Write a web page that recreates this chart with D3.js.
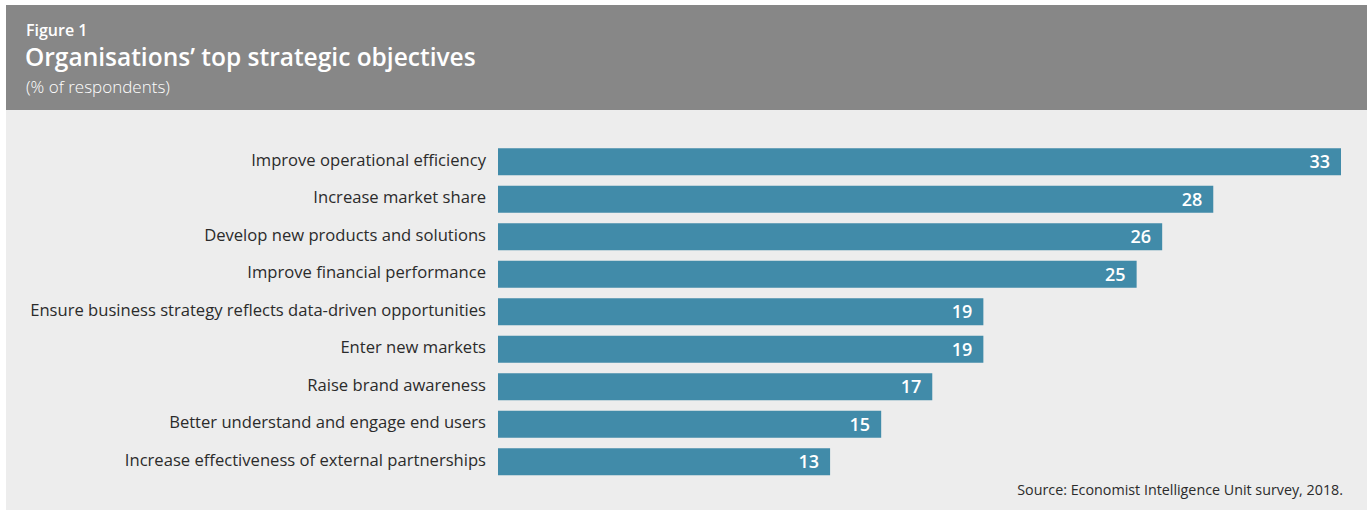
<!DOCTYPE html>
<html>
<head>
<meta charset="utf-8">
<script src="https://cdn.jsdelivr.net/npm/d3@7"></script>
<style>
  body { margin: 0; background: #ffffff; }
  svg { display: block; font-family: "Open Sans", sans-serif; }
</style>
</head>
<body>
<svg id="canvas"></svg>
<script>
// chart data
let categories = [
  "Improve operational efficiency",
  "Increase market share",
  "Develop new products and solutions",
  "Improve financial performance",
  "Ensure business strategy reflects data-driven opportunities",
  "Enter new markets",
  "Raise brand awareness",
  "Better understand and engage end users",
  "Increase effectiveness of external partnerships"
];
let values = [33, 28, 26, 25, 19, 19, 17, 15, 13];

let figureLabel = "Figure 1";
let title = "Organisations\u2019 top strategic objectives";
let subtitle = "(% of respondents)";
let source = "Source: Economist Intelligence Unit survey, 2018.";

let width = 1367;
let height = 510;

let canvas = d3.select("#canvas").attr("width", width).attr("height", height);

// panels
canvas.append("rect")
  .attr("x", 6).attr("y", 110)
  .attr("width", width - 6).attr("height", height - 110)
  .attr("fill", "#ededed");

canvas.append("rect")
  .attr("x", 6).attr("y", 5)
  .attr("width", width - 6).attr("height", 105)
  .attr("fill", "#878787");

canvas.append("text")
  .attr("x", 26).attr("y", 36)
  .attr("fill", "#ffffff")
  .attr("font-size", 16)
  .attr("font-weight", 600)
  .text(figureLabel);

canvas.append("text")
  .attr("x", 25).attr("y", 66)
  .attr("fill", "#ffffff")
  .attr("font-size", 24.5)
  .attr("font-weight", 600)
  .text(title);

canvas.append("text")
  .attr("x", 26).attr("y", 93)
  .attr("fill", "#ffffff")
  .attr("font-size", 17)
  .attr("font-weight", 300)
  .text(subtitle);

// scales
let xScale = d3.scaleLinear()
  .domain([0, 33])
  .range([498, 1341]);

let yScale = d3.scaleBand()
  .domain(categories)
  .range([143, 480.5])
  .paddingInner(0.28)
  .paddingOuter(0.14);

let yAxis = d3.axisLeft(yScale).tickSize(0).tickPadding(12);

let axisG = canvas.append("g")
  .attr("transform", "translate(" + 498 + ",0)")
  .call(yAxis);
axisG.select(".domain").remove();
axisG.selectAll("text")
  .attr("font-family", "\"Open Sans\", sans-serif")
  .attr("font-size", 16.6)
  .attr("dy", "0.25em")
  .attr("fill", "#2b2b2b");

canvas.selectAll("rect.bar")
  .data(values)
  .enter()
  .append("rect")
  .attr("class", "bar")
  .attr("x", xScale(0))
  .attr("y", (d, i) => yScale(categories[i]))
  .attr("width", (d) => xScale(d) - xScale(0))
  .attr("height", yScale.bandwidth())
  .attr("fill", "#418ba9");

canvas.selectAll("text.value")
  .data(values)
  .enter()
  .append("text")
  .attr("class", "value")
  .attr("x", (d) => xScale(d) - 11)
  .attr("y", (d, i) => yScale(categories[i]) + yScale.bandwidth() / 2)
  .attr("dy", "0.36em")
  .attr("text-anchor", "end")
  .attr("fill", "#ffffff")
  .attr("font-size", 18)
  .attr("font-weight", 600)
  .text((d) => d);

canvas.append("text")
  .attr("x", 1343).attr("y", 495)
  .attr("text-anchor", "end")
  .attr("fill", "#2b2b2b")
  .attr("font-size", 14.3)
  .text(source);
</script>
</body>
</html>
